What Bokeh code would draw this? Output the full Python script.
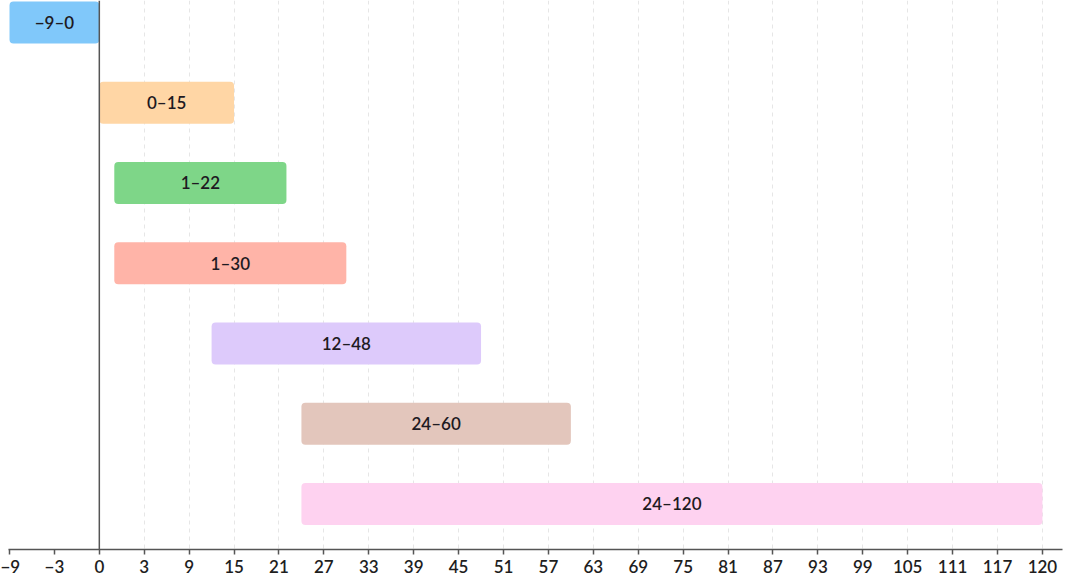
import numpy as np
from bokeh.plotting import figure
from bokeh.models import ColumnDataSource, Range1d, FixedTicker, Span
from bokeh.core.properties import value
from bokeh.embed import file_html
from bokeh.resources import INLINE

# Axis tick values (evenly spaced slots on the x axis)
tick_values = [-9, -3, 0, 3, 9, 15, 21, 27, 33, 39, 45, 51, 57, 63, 69,
               75, 81, 87, 93, 99, 105, 111, 117, 120]

# Ranges, listed top to bottom
range_start = [-9, 0, 1, 1, 12, 24, 24]
range_end = [0, 15, 22, 30, 48, 60, 120]
bar_colors = ["#80C8FA", "#FFD6A5", "#7ED688", "#FFB4A8",
              "#DDCAFB", "#E3C6BC", "#FED2F0"]

LABEL_FONT = "Lato Semibold, Lato Medium, Lato"


def fmt(v):
    return f"\u2212{-v}" if v < 0 else str(v)


# map values onto the evenly spaced tick slots
slots = np.arange(len(tick_values), dtype=float)


def to_slot(v):
    return np.interp(np.asarray(v, dtype=float), tick_values, slots)


left = to_slot(range_start)
right = to_slot(range_end)
rows = np.arange(len(range_start))
labels = [f"{fmt(s)}\u2013{fmt(e)}" for s, e in zip(range_start, range_end)]

source = ColumnDataSource(dict(
    row=rows, left=left, right=right, mid=(left + right) / 2,
    label=labels, color=bar_colors,
))

p = figure(
    width=1065, height=578,
    x_range=Range1d(-0.0223, 23.447),
    y_range=Range1d(6.567, -0.274),
    output_backend="svg", toolbar_location=None,
    min_border_left=8, min_border_right=3,
    min_border_top=0, min_border_bottom=29,
)
p.outline_line_color = None
p.background_fill_color = "white"
p.border_fill_color = "white"

p.hbar(y="row", left="left", right="right", height=0.523,
       fill_color="color", line_color=None, border_radius=4, source=source)

p.text(x="mid", y="row", text="label", source=source,
       text_font=value(LABEL_FONT), text_font_size="17px",
       text_align="center", text_baseline="middle", text_color="#1e1a22")

# zero line
p.add_layout(Span(location=float(to_slot(0)), dimension="height",
                  line_color="#555555", line_width=1.5))

# x axis
tick_slots = [int(i) for i in slots]
p.xaxis.ticker = FixedTicker(ticks=tick_slots)
p.xaxis.major_label_overrides = {i: fmt(v) for i, v in zip(tick_slots, tick_values)}
p.xaxis.axis_line_color = "#555555"
p.xaxis.axis_line_width = 1.5
p.xaxis.major_tick_line_color = "#555555"
p.xaxis.major_tick_line_width = 1.5
p.xaxis.major_tick_out = 5
p.xaxis.major_tick_in = 0
p.xaxis.minor_tick_line_color = None
p.xaxis.major_label_text_font = LABEL_FONT
p.xaxis.major_label_text_font_size = "17px"
p.xaxis.major_label_text_color = "#1e1e1e"
p.xaxis.major_label_standoff = 5

# faint dashed grid at the positive ticks
grid_slots = [int(i) for i, v in zip(slots, tick_values) if v > 0]
p.xgrid.ticker = FixedTicker(ticks=grid_slots)
p.xgrid.grid_line_color = "#e6e6e6"
p.xgrid.grid_line_dash = "4 4"
p.xgrid.grid_line_width = 1
p.ygrid.visible = False
p.yaxis.visible = False

open("out.html", "w").write(file_html(p, INLINE))
